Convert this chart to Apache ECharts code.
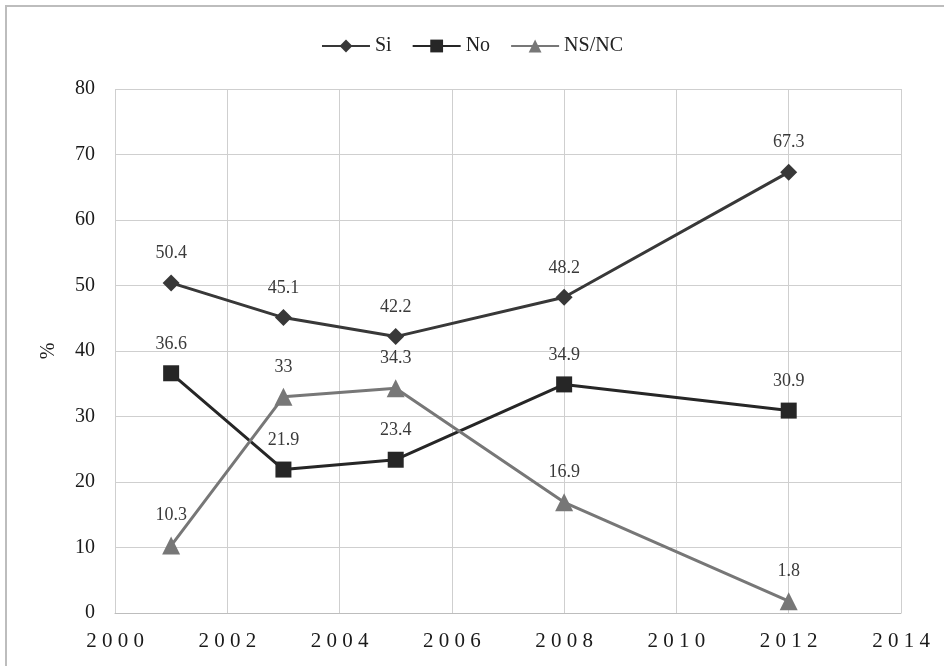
<!DOCTYPE html>
<html>
<head>
<meta charset="utf-8">
<script src="https://cdn.jsdelivr.net/npm/echarts@6/dist/echarts.min.js"></script>
<style>
  html, body { margin: 0; padding: 0; background: #fff; }
  #chart { width: 944px; height: 666px; }
</style>
</head>
<body>
<div id="chart"></div>
<script>
// Survey years and percentages per answer
const years = [2001, 2003, 2005, 2008, 2012];
const si = [50.4, 45.1, 42.2, 48.2, 67.3];
const no = [36.6, 21.9, 23.4, 34.9, 30.9];
const nsnc = [10.3, 33, 34.3, 16.9, 1.8];

const FONT = 'Liberation Serif';

function pairs(values) {
  return years.map((y, i) => [y, values[i]]);
}

function lineSeries(name, values, color, symbol, size) {
  return {
    name: name,
    type: 'line',
    data: pairs(values),
    symbol: symbol,
    symbolSize: size,
    lineStyle: { color: color, width: 3 },
    itemStyle: { color: color },
    label: {
      show: true,
      position: 'top',
      distance: 12,
      color: '#3a3a3a',
      fontFamily: FONT,
      fontSize: 18
    }
  };
}

const chart = echarts.init(document.getElementById('chart'));
chart.setOption({
  backgroundColor: '#fff',
  animation: false,
  graphic: [{
    type: 'rect',
    shape: { x: 6, y: 6, width: 960, height: 700 },
    style: { fill: 'none', stroke: '#bdbdbd', lineWidth: 2 },
    silent: true
  }],
  legend: {
    top: 31,
    left: 'center',
    itemWidth: 48,
    itemHeight: 16,
    itemGap: 20,
    textStyle: { fontFamily: FONT, fontSize: 20, color: '#222' },
    data: ['Si', 'No', 'NS/NC']
  },
  grid: { left: 115, right: 43, top: 89, bottom: 53, containLabel: false },
  xAxis: {
    type: 'value',
    min: 2000,
    max: 2014,
    interval: 2,
    axisLine: { show: true, lineStyle: { color: '#bdbdbd', width: 1 } },
    axisTick: { show: false },
    splitLine: { show: true, lineStyle: { color: '#cfcfcf', width: 1 } },
    axisLabel: {
      margin: 18,
      fontFamily: FONT,
      fontSize: 21,
      color: '#1a1a1a',
      formatter: v => String(v).split('').join(' ')
    }
  },
  yAxis: {
    type: 'value',
    min: 0,
    max: 80,
    interval: 10,
    name: '%',
    nameLocation: 'middle',
    nameGap: 56,
    nameRotate: 90,
    nameTextStyle: { fontFamily: FONT, fontSize: 20, color: '#222' },
    axisLine: { show: false },
    axisTick: { show: false },
    splitLine: { show: true, lineStyle: { color: '#cfcfcf', width: 1 } },
    axisLabel: {
      margin: 20,
      fontFamily: FONT,
      fontSize: 20,
      color: '#1a1a1a'
    }
  },
  series: [
    lineSeries('Si', si, '#383838', 'diamond', 17),
    lineSeries('No', no, '#262626', 'rect', 16),
    lineSeries('NS/NC', nsnc, '#777777', 'triangle', 18)
  ]
});
</script>
</body>
</html>
